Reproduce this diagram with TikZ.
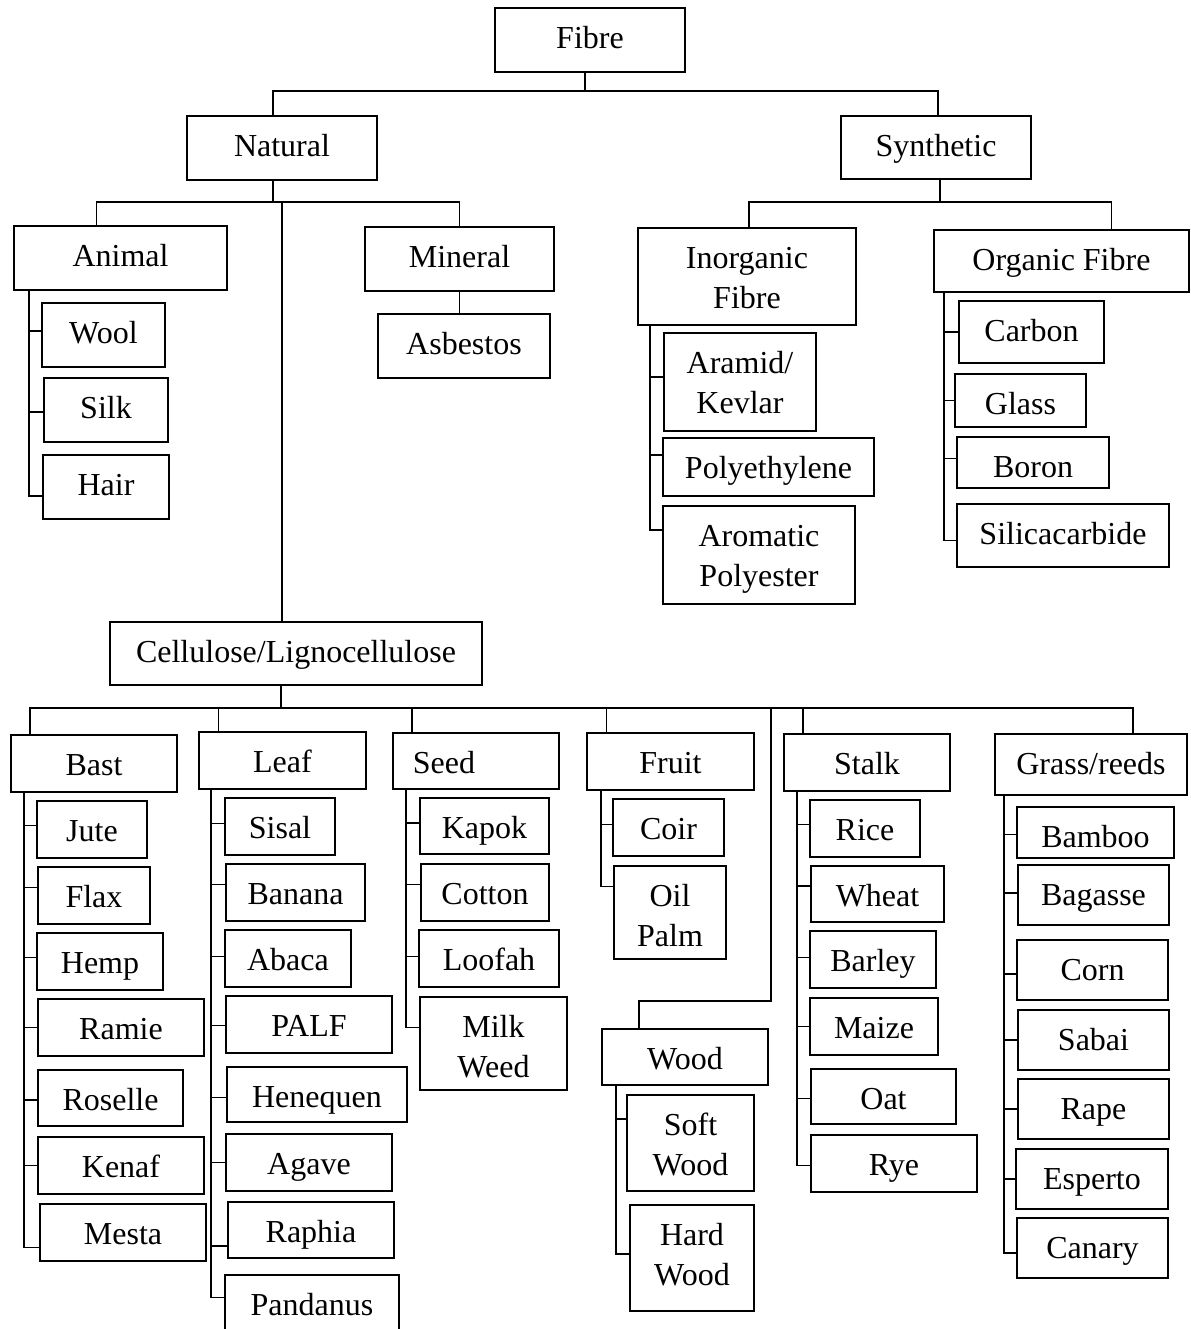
\documentclass[tikz,border=0pt]{standalone}
\usepackage{fontspec}
\setmainfont{Liberation Serif}
\usepackage{tikz}

\tikzset{box/.style={draw, rectangle, inner sep=0pt, outer sep=0pt},
  boxtext/.style={anchor=base, yshift=-20pt, inner sep=0pt, font=\fontsize{16}{20}\selectfont}}

% box from its corners (x1,y1) to (x2,y2), in pixels of the page
\newcommand{\fibrebox}[7][]{%
  \pgfmathsetmacro\boxw{(#5-#3)/2}%
  \pgfmathsetmacro\boxh{(#6-#4)/2}%
  \node[box, minimum width=\boxw pt, minimum height=\boxh pt,
    label={[boxtext, #1]north:{\begin{tabular}[t]{@{}c@{}}#7\end{tabular}}}]
    (#2) at ({(#3+#5)/2},{(#4+#6)/2}) {};}

% spine under a parent, one tick to each child
\newcommand{\branch}[3]{%
  \coordinate (#1sp) at ([xshift=#2*0.5pt]#1.south west);
  \foreach \ch/\sh in {#3} \draw (#1sp) |- ([yshift=\sh*0.5pt]\ch.west);}

\begin{document}
\begin{tikzpicture}[x=0.5pt, y=-0.5pt, line width=0.6pt]
  \clip (0,0) rectangle (1190,1329);

  \fibrebox{fibre}{495}{8}{685}{72}{Fibre}
  \fibrebox{natural}{187}{116}{377}{180}{Natural}
  \fibrebox{synthetic}{841}{116}{1031}{179}{Synthetic}

  \fibrebox{animal}{14}{226}{227}{290}{Animal}
  \fibrebox{mineral}{365}{227}{554}{291}{Mineral}
  \fibrebox{asbestos}{378}{314}{550}{378}{Asbestos}
  \fibrebox{wool}{42}{303}{165}{367}{Wool}
  \fibrebox{silk}{44}{378}{168}{442}{Silk}
  \fibrebox{hair}{43}{455}{169}{519}{Hair}

  \fibrebox{inorganic}{638}{228}{856}{325}{Inorganic\\Fibre}
  \fibrebox{organic}{934}{230}{1189}{292}{Organic Fibre}
  \fibrebox{aramid}{664}{333}{816}{431}{Aramid/\\Kevlar}
  \fibrebox{polyeth}{663}{438}{874}{496}{Polyethylene}
  \fibrebox{aromatic}{663}{506}{855}{604}{Aromatic\\Polyester}
  \fibrebox{carbon}{959}{301}{1104}{363}{Carbon}
  \fibrebox{glass}{955}{374}{1086}{427}{Glass}
  \fibrebox{boron}{957}{437}{1109}{488}{Boron}
  \fibrebox{silica}{957}{504}{1169}{567}{Silicacarbide}

  \fibrebox{cellulose}{110}{622}{482}{685}{Cellulose/Lignocellulose}
  \fibrebox{bast}{11}{735}{177}{792}{Bast}
  \fibrebox{leaf}{199}{732}{366}{789}{Leaf}
  \fibrebox[xshift=-16pt]{seed}{393}{733}{559}{789}{Seed}
  \fibrebox{fruit}{587}{733}{754}{790}{Fruit}
  \fibrebox{stalk}{784}{734}{950}{791}{Stalk}
  \fibrebox{grass}{995}{734}{1187}{795}{Grass/reeds}

  % bast
  \fibrebox{jute}{37}{801}{147}{858}{Jute}
  \fibrebox{flax}{38}{867}{150}{924}{Flax}
  \fibrebox{hemp}{37}{933}{163}{990}{Hemp}
  \fibrebox{ramie}{38}{999}{204}{1056}{Ramie}
  \fibrebox{roselle}{38}{1070}{183}{1126}{Roselle}
  \fibrebox{kenaf}{38}{1137}{204}{1194}{Kenaf}
  \fibrebox{mesta}{40}{1204}{206}{1261}{Mesta}
  % leaf
  \fibrebox{sisal}{225}{798}{335}{855}{Sisal}
  \fibrebox{banana}{226}{864}{365}{921}{Banana}
  \fibrebox{abaca}{225}{930}{351}{987}{Abaca}
  \fibrebox{palf}{226}{996}{392}{1053}{PALF}
  \fibrebox{henequen}{227}{1067}{407}{1122}{Henequen}
  \fibrebox{agave}{226}{1134}{392}{1191}{Agave}
  \fibrebox{raphia}{228}{1202}{394}{1258}{Raphia}
  \fibrebox{pandanus}{225}{1275}{399}{1340}{Pandanus}
  % seed
  \fibrebox{kapok}{420}{798}{549}{854}{Kapok}
  \fibrebox{cotton}{421}{864}{549}{921}{Cotton}
  \fibrebox{loofah}{419}{930}{559}{987}{Loofah}
  \fibrebox{milkweed}{420}{997}{567}{1090}{Milk\\Weed}
  % fruit and wood
  \fibrebox{coir}{613}{799}{724}{856}{Coir}
  \fibrebox{oilpalm}{614}{866}{726}{959}{Oil\\Palm}
  \fibrebox{wood}{602}{1029}{768}{1085}{Wood}
  \fibrebox{softwood}{627}{1095}{754}{1191}{Soft\\Wood}
  \fibrebox{hardwood}{630}{1205}{754}{1311}{Hard\\Wood}
  % stalk
  \fibrebox{rice}{810}{800}{920}{857}{Rice}
  \fibrebox{wheat}{811}{866}{944}{922}{Wheat}
  \fibrebox{barley}{810}{931}{936}{988}{Barley}
  \fibrebox{maize}{810}{998}{938}{1055}{Maize}
  \fibrebox{oat}{811}{1069}{956}{1124}{Oat}
  \fibrebox{rye}{811}{1135}{977}{1192}{Rye}
  % grass
  \fibrebox{bamboo}{1017}{807}{1174}{858}{Bamboo}
  \fibrebox{bagasse}{1018}{865}{1169}{925}{Bagasse}
  \fibrebox{corn}{1017}{940}{1168}{1000}{Corn}
  \fibrebox{sabai}{1018}{1010}{1169}{1070}{Sabai}
  \fibrebox{rape}{1018}{1079}{1169}{1139}{Rape}
  \fibrebox{esperto}{1016}{1149}{1168}{1209}{Esperto}
  \fibrebox{canary}{1017}{1218}{1168}{1278}{Canary}

  % upper levels
  \draw ([xshift=-2.5pt]fibre.south) -- ++(0,19) coordinate (fj);
  \draw ([xshift=-4.5pt]natural.north) |- ([xshift=1pt]synthetic.north |- fj) -- ([xshift=1pt]synthetic.north);
  \draw ([xshift=-4.5pt]natural.south) -- ++(0,22) coordinate (nj);
  \draw ([xshift=-12pt]animal.north) |- (mineral.north |- nj) -- (mineral.north);
  \draw ([xshift=-7pt]cellulose.north) -- ([xshift=-7pt]cellulose.north |- nj);
  \draw (mineral.south) -- (mineral.south |- asbestos.north);
  \draw ([xshift=2pt]synthetic.south) -- ++(0,23) coordinate (sj);
  \draw ([xshift=1pt]inorganic.north) |- ([xshift=25pt]organic.north |- sj) -- ([xshift=25pt]organic.north);

  % cellulose groups
  \draw ([xshift=-7.5pt]cellulose.south) -- ++(0,23) coordinate (cj);
  \draw ([xshift=-32pt]bast.north) |- ([xshift=21pt]grass.north |- cj) -- ([xshift=21pt]grass.north);
  \foreach \n in {leaf,seed,fruit,stalk}
    \draw ([xshift=-32pt]\n.north) -- ([xshift=-32pt]\n.north |- cj);
  \coordinate (woodk) at (771,1001);
  \draw ([xshift=-23pt]wood.north) |- (woodk) -- (woodk |- cj);

  % spines
  \branch{animal}{15}{wool/4, silk/-2, hair/-9}
  \branch{inorganic}{12}{aramid/5, polyeth/12, aromatic/25}
  \branch{organic}{10}{carbon/0, glass/0, boron/4, silica/-5}
  \branch{bast}{13}{jute/4, flax/8, hemp/4, ramie/0, roselle/-2, kenaf/0, mesta/-15}
  \branch{leaf}{12}{sisal/3, banana/8, abaca/2, palf/-1, henequen/-3, agave/0, raphia/-16, pandanus/10}
  \branch{seed}{13}{kapok/3, cotton/8, loofah/2, milkweed/16}
  \branch{fruit}{14}{coir/3, oilpalm/26}
  \branch{wood}{14}{softwood/24, hardwood/4}
  \branch{stalk}{13}{rice/4, wheat/8, barley/2, maize/0, oat/-2, rye/-2}
  \branch{grass}{9}{bamboo/-2, bagasse/2, corn/-4, sabai/0, rape/0, esperto/0, canary/-5}
\end{tikzpicture}
\end{document}
